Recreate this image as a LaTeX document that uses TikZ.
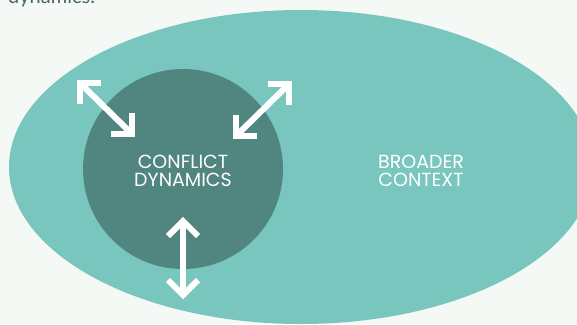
\documentclass[tikz,border=0pt]{standalone}
\usepackage{fontspec}
\setmainfont{Lato}
\newfontfamily\labfont{Poppins}
\definecolor{bgc}{HTML}{F4F9F6}
\definecolor{ctxc}{HTML}{79C6BF}
\definecolor{dync}{HTML}{508580}
\definecolor{topc}{HTML}{4A6767}
\begin{document}
\begin{tikzpicture}[x=1pt,y=-1pt,
  lbl/.style={text=white,align=center,font=\labfont\fontsize{19}{18}\selectfont,inner sep=0pt},
  arr/.style={draw=white,line width=6pt,line join=miter,line cap=butt}]
\fill[bgc] (0,0) rectangle (577,324);
\useasboundingbox (0,0) rectangle (577,324);
\node[anchor=base west,text=topc,font=\fontsize{20}{24}\selectfont,inner sep=0pt] (top) at (8,3) {dynamics.};
\fill[ctxc] (301,167) ellipse [x radius=292pt, y radius=157pt];
\fill[dync] (183,169) circle [radius=100pt];
\node[lbl] (cd) at (183,171) {CONFLICT\\DYNAMICS};
\node[lbl] (bc) at (421,171) {BROADER\\CONTEXT};
% upper-left arrow
\coordinate (a1) at (80,83);
\coordinate (a2) at (132,134);
\draw[arr] (a1) -- (a2);
\draw[arr] ([xshift=21pt]a1) -- (a1) -- ([yshift=-21pt]a1);
\draw[arr] ([xshift=-21pt]a2) -- (a2) -- ([yshift=21pt]a2);
% upper-right arrow
\coordinate (b1) at (289,84);
\coordinate (b2) at (236,136);
\draw[arr] (b1) -- (b2);
\draw[arr] ([xshift=-21pt]b1) -- (b1) -- ([yshift=-21pt]b1);
\draw[arr] ([xshift=21pt]b2) -- (b2) -- ([yshift=21pt]b2);
% vertical arrow
\coordinate (c1) at (183,221);
\coordinate (c2) at (183,295);
\draw[arr] (c1) -- (c2);
\draw[arr] ([shift={(-15pt,-15pt)}]c1) -- (c1) -- ([shift={(15pt,-15pt)}]c1);
\draw[arr] ([shift={(-15pt,15pt)}]c2) -- (c2) -- ([shift={(15pt,15pt)}]c2);
\end{tikzpicture}
\end{document}
